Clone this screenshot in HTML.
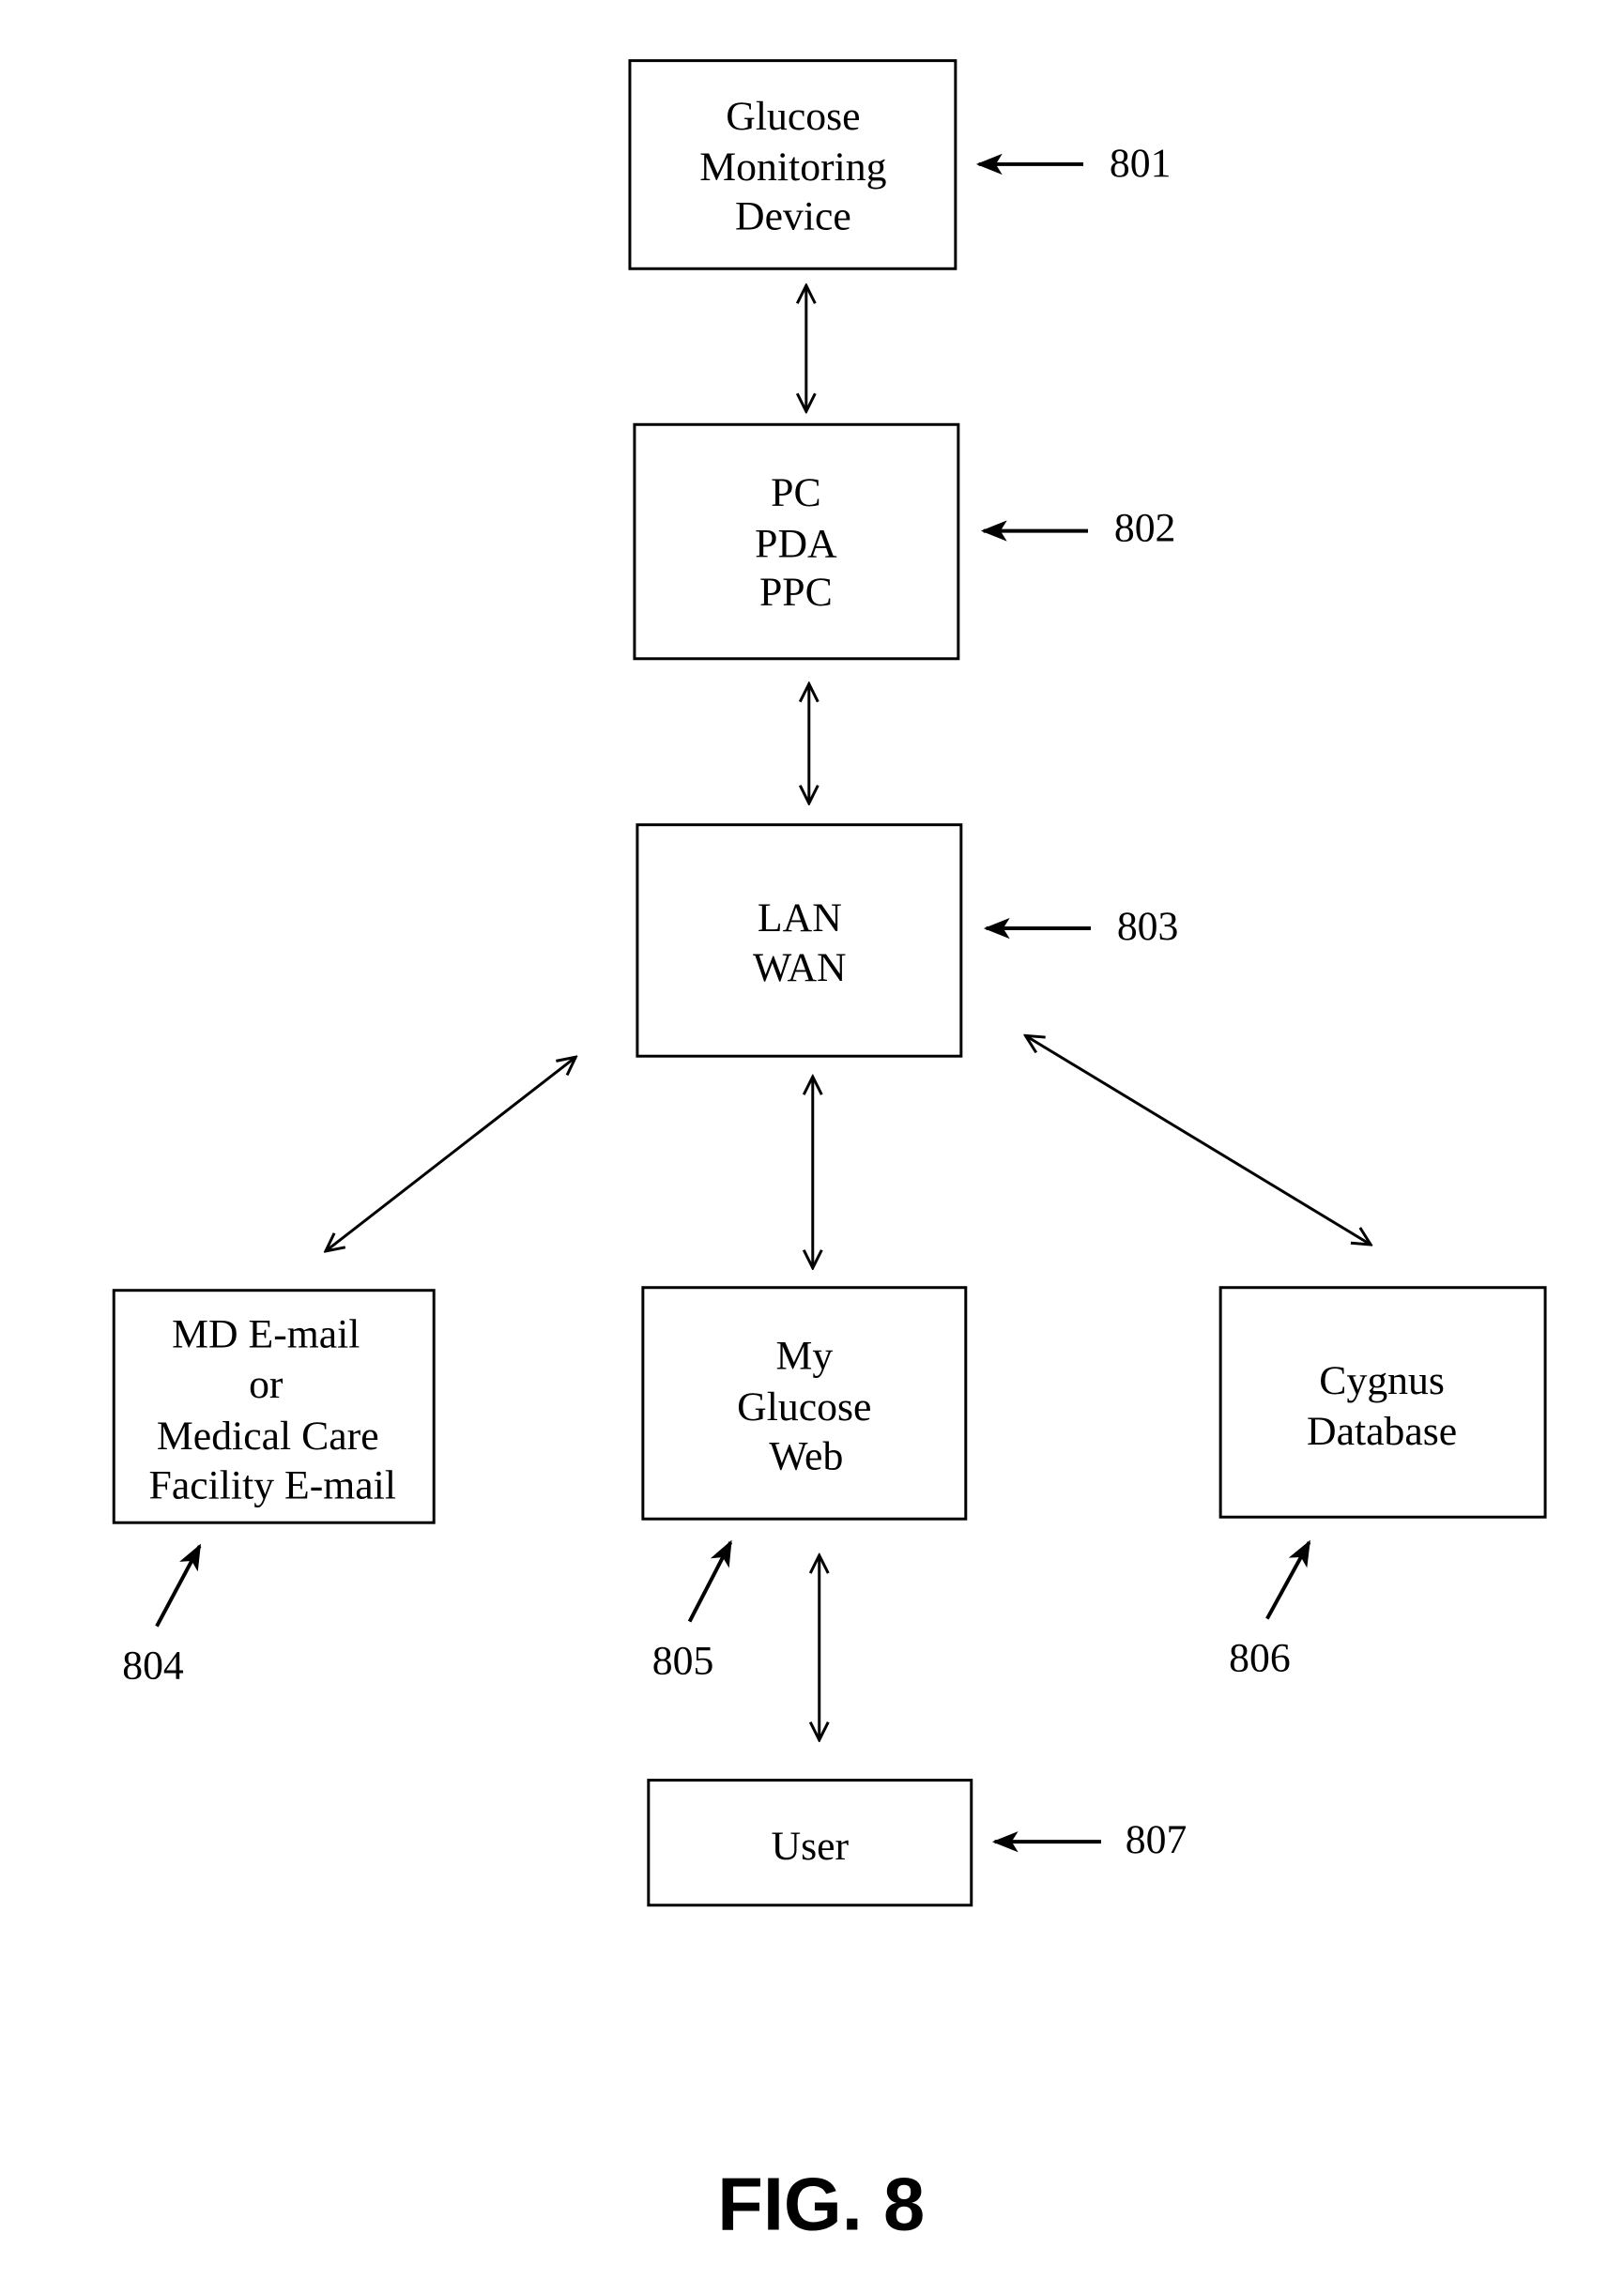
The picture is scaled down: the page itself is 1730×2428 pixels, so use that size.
<!DOCTYPE html>
<html><head><style>
html,body{margin:0;padding:0;background:#fff;}
svg{display:block;}
text{font-family:"Liberation Serif",serif;font-size:44px;fill:#000;text-anchor:middle;dominant-baseline:central;}
</style></head><body>
<svg width="1730" height="2428" viewBox="0 0 1730 2428" xmlns="http://www.w3.org/2000/svg">
<defs>
<marker id="v" viewBox="0 0 20 20" refX="18" refY="10" markerWidth="24" markerHeight="24" markerUnits="userSpaceOnUse" orient="auto-start-reverse">
<path d="M2,2 L18,10 L2,18" fill="none" stroke="#000" stroke-width="2.5"/>
</marker>
<marker id="f" viewBox="0 0 20 20" refX="18" refY="10" markerWidth="28" markerHeight="28" markerUnits="userSpaceOnUse" orient="auto">
<path d="M0,2 L20,10 L0,18 L5,10 Z" fill="#000"/>
</marker>
</defs>
<g transform="scale(0.994)">
<g fill="none" stroke="#000" stroke-width="3">
<rect x="675" y="65" width="349" height="223"/>
<rect x="680" y="455" width="347" height="251"/>
<rect x="683" y="884" width="347" height="248"/>
<rect x="122" y="1383" width="343" height="249"/>
<rect x="689" y="1380" width="346" height="248"/>
<rect x="1308" y="1380" width="348" height="246"/>
<rect x="695" y="1908" width="346" height="134"/>
</g>
<g stroke="#000" stroke-width="3" marker-start="url(#v)" marker-end="url(#v)">
<line x1="864" y1="306" x2="864" y2="441"/>
<line x1="867" y1="733" x2="867" y2="861"/>
<line x1="617" y1="1133" x2="349" y2="1341"/>
<line x1="871" y1="1154" x2="871" y2="1359"/>
<line x1="1099" y1="1110" x2="1469" y2="1334"/>
<line x1="878" y1="1667" x2="878" y2="1865"/>
</g>
<g stroke="#000" stroke-width="4" marker-end="url(#f)">
<line x1="1161" y1="176" x2="1049" y2="176"/>
<line x1="1166" y1="569" x2="1054" y2="569"/>
<line x1="1169" y1="995" x2="1057" y2="995"/>
<line x1="1180" y1="1974" x2="1066" y2="1974"/>
<line x1="168" y1="1743" x2="214" y2="1657"/>
<line x1="739" y1="1738" x2="783" y2="1653"/>
<line x1="1358" y1="1735" x2="1403" y2="1653"/>
</g>
<text x="850" y="125">Glucose</text>
<text x="850" y="179">Monitoring</text>
<text x="850" y="232">Device</text>
<text x="853" y="528">PC</text>
<text x="853" y="583">PDA</text>
<text x="853" y="635">PPC</text>
<text x="857" y="984">LAN</text>
<text x="857" y="1037">WAN</text>
<text x="285" y="1430">MD E-mail</text>
<text x="285" y="1484">or</text>
<text x="287" y="1539">Medical Care</text>
<text x="292" y="1592">Facility E-mail</text>
<text x="862" y="1453">My</text>
<text x="862" y="1508">Glucose</text>
<text x="864" y="1561">Web</text>
<text x="1481" y="1480">Cygnus</text>
<text x="1481" y="1534">Database</text>
<text x="868" y="1979">User</text>
<text x="1222" y="175">801</text>
<text x="1227" y="566">802</text>
<text x="1230" y="993">803</text>
<text x="1239" y="1972">807</text>
<text x="164" y="1785">804</text>
<text x="732" y="1780">805</text>
<text x="1350" y="1777">806</text>
<text x="880" y="2362" style="font-family:'Liberation Sans',sans-serif;font-weight:bold;font-size:80px;">FIG. 8</text>
</g>
</svg>
</body></html>
